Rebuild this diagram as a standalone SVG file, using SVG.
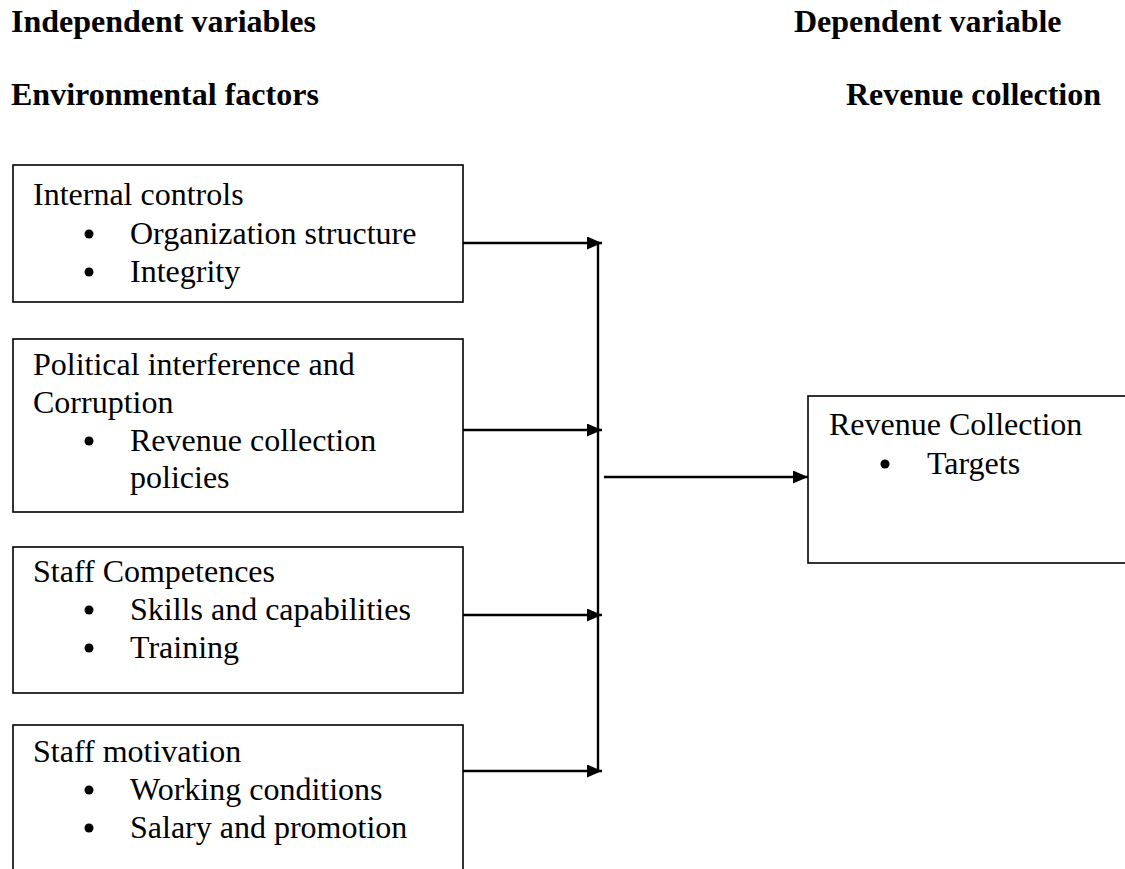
<svg xmlns="http://www.w3.org/2000/svg" width="1125" height="869" viewBox="0 0 1125 869">
<style>
.h{font-family:"Liberation Serif","Times New Roman",serif;font-weight:bold;font-size:32px;fill:#000}
.t{font-family:"Liberation Serif","Times New Roman",serif;font-size:32px;fill:#000}
.box{fill:#fff;stroke:#000;stroke-width:1.6}
.ln{stroke:#000;stroke-width:2.4;fill:none}
</style>
<defs>
<marker id="ah" viewBox="0 0 15 13" refX="15" refY="6.5" markerWidth="15" markerHeight="13" orient="auto" markerUnits="userSpaceOnUse">
<path d="M0,0 L15,6.5 L0,13 z" fill="#000"/>
</marker>
</defs>
<rect width="1125" height="869" fill="#fff"/>
<g id="headers">
<text class="h" x="11" y="32">Independent variables</text>
<text class="h" x="794" y="32">Dependent variable</text>
<text class="h" x="11" y="105">Environmental factors</text>
<text class="h" x="846" y="105">Revenue collection</text>
</g>
<g id="node-internal-controls">
<rect class="box" x="13" y="165" width="450" height="137"/>
<text class="t" x="33" y="205">Internal controls</text>
<circle cx="89" cy="234" r="4.5"/>
<text class="t" x="130" y="244">Organization structure</text>
<circle cx="89" cy="272" r="4.5"/>
<text class="t" x="130" y="282">Integrity</text>
</g>
<g id="node-political">
<rect class="box" x="13" y="339" width="450" height="173"/>
<text class="t" x="33" y="375">Political interference and</text>
<text class="t" x="33" y="413">Corruption</text>
<circle cx="89" cy="441" r="4.5"/>
<text class="t" x="130" y="451">Revenue collection</text>
<text class="t" x="130" y="488">policies</text>
</g>
<g id="node-staff-competences">
<rect class="box" x="13" y="547" width="450" height="146"/>
<text class="t" x="33" y="582">Staff Competences</text>
<circle cx="89" cy="610" r="4.5"/>
<text class="t" x="130" y="620">Skills and capabilities</text>
<circle cx="89" cy="648" r="4.5"/>
<text class="t" x="130" y="658">Training</text>
</g>
<g id="node-staff-motivation">
<rect class="box" x="13" y="725" width="450" height="160"/>
<text class="t" x="33" y="762">Staff motivation</text>
<circle cx="89" cy="790" r="4.5"/>
<text class="t" x="130" y="800">Working conditions</text>
<circle cx="89" cy="828" r="4.5"/>
<text class="t" x="130" y="838">Salary and promotion</text>
</g>
<g id="node-revenue-collection">
<rect class="box" x="808" y="396" width="330" height="167"/>
<text class="t" x="829" y="435">Revenue Collection</text>
<circle cx="885" cy="464" r="4.5"/>
<text class="t" x="927" y="474">Targets</text>
</g>
<g id="connectors">
<line class="ln" x1="598" y1="242" x2="598" y2="772"/>
<line class="ln" x1="463" y1="243" x2="602" y2="243" marker-end="url(#ah)"/>
<line class="ln" x1="463" y1="430" x2="602" y2="430" marker-end="url(#ah)"/>
<line class="ln" x1="463" y1="615" x2="602" y2="615" marker-end="url(#ah)"/>
<line class="ln" x1="463" y1="771" x2="602" y2="771" marker-end="url(#ah)"/>
<line class="ln" x1="604" y1="477" x2="808" y2="477" marker-end="url(#ah)"/>
</g>
</svg>
